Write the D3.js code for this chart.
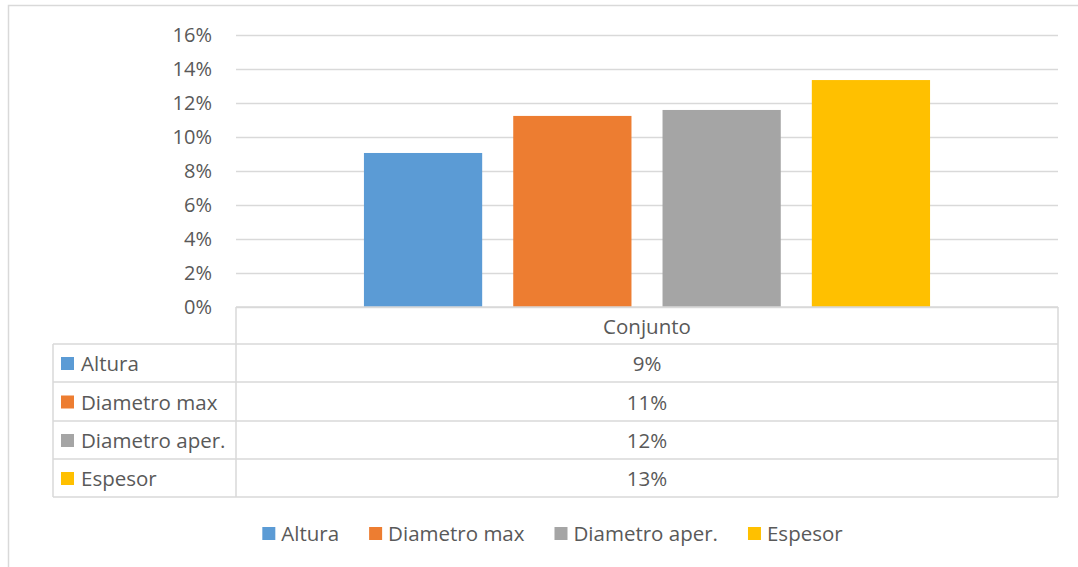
<!DOCTYPE html>
<html>
<head>
<meta charset="utf-8">
<script src="https://cdn.jsdelivr.net/npm/d3@7"></script>
<style>
  html, body { margin: 0; padding: 0; background: #fff; }
  svg { display: block; }
  text { font-family: "Open Sans", "Liberation Sans", sans-serif; fill: #595959; }
</style>
</head>
<body>
<svg id="chart" width="1078" height="567"></svg>
<script>
// ---- data ----
const categories = ["Conjunto"];
const seriesNames = ["Altura", "Diametro max", "Diametro aper.", "Espesor"];
const seriesValues = [0.0906, 0.1124, 0.1159, 0.1335];
const seriesLabels = ["9%", "11%", "12%", "13%"];
const seriesColors = ["#5B9BD5", "#ED7D31", "#A5A5A5", "#FFC000"];
const yTicks = [0, 0.02, 0.04, 0.06, 0.08, 0.10, 0.12, 0.14, 0.16];

const svg = d3.select("#chart");
const FS = 20.5;
const FS_TICK = 20;
const FONT = "'Open Sans', 'Liberation Sans', sans-serif";
const gridColor = "#d9d9d9";

// chart frame (cropped on right/bottom)
svg.append("rect").attr("x", 8.5).attr("y", 5.5).attr("width", 1100).attr("height", 600)
  .attr("fill", "none").attr("stroke", gridColor).attr("stroke-width", 1.5);

const plotLeft = 236, plotRight = 1058, plotTop = 35, plotBottom = 307;

const y = d3.scaleLinear().domain([0, 0.16]).range([plotBottom, plotTop]);
const x0 = d3.scaleBand().domain(categories).range([plotLeft, plotRight])
  .paddingInner(0).paddingOuter(0.226);
const x1 = d3.scaleBand().domain(seriesNames).range([0, x0.bandwidth()])
  .paddingInner(0.208).paddingOuter(0);

// gridlines + y axis labels
const yAxis = d3.axisLeft(y).tickValues(yTicks).tickFormat(d3.format(".0%"))
  .tickSize(-(plotRight - plotLeft)).tickPadding(24);
const gy = svg.append("g").attr("transform", `translate(${plotLeft},0)`).call(yAxis);
gy.select(".domain").remove();
gy.selectAll(".tick line").attr("stroke", gridColor).attr("stroke-width", 1.3);
gy.selectAll(".tick text").attr("font-size", FS_TICK).attr("fill", "#595959")
  .style("font-family", FONT);

// bars
const gBars = svg.append("g");
categories.forEach(cat => {
  gBars.selectAll("rect.bar").data(seriesNames.map((s, i) => ({ s, v: seriesValues[i], c: seriesColors[i] })))
    .join("rect").attr("class", "bar")
    .attr("x", d => x0(cat) + x1(d.s))
    .attr("width", x1.bandwidth())
    .attr("y", d => y(d.v))
    .attr("height", d => y(0) - y(d.v))
    .attr("fill", d => d.c);
});

// data table
const tableLeft = 53;
const rowYs = [plotBottom, 344, 382, 421, 459, 497];
const gT = svg.append("g");
const line = (x1_, y1_, x2_, y2_) => gT.append("line").attr("x1", x1_).attr("y1", y1_)
  .attr("x2", x2_).attr("y2", y2_).attr("stroke", gridColor).attr("stroke-width", 1.5);
line(plotLeft, rowYs[0], plotRight, rowYs[0]);
line(plotLeft, rowYs[0], plotLeft, rowYs[5]);
line(plotRight, rowYs[0], plotRight, rowYs[5]);
for (let i = 1; i < rowYs.length; i++) line(tableLeft, rowYs[i], plotRight, rowYs[i]);
line(tableLeft, rowYs[1], tableLeft, rowYs[5]);

gT.append("text").attr("x", x0("Conjunto") + x0.bandwidth() / 2).attr("y", (rowYs[0] + rowYs[1]) / 2)
  .attr("text-anchor", "middle").attr("dominant-baseline", "central").attr("font-size", FS)
  .text(categories[0]);

seriesNames.forEach((s, i) => {
  const cy = (rowYs[i + 1] + rowYs[i + 2]) / 2;
  gT.append("rect").attr("x", 61).attr("y", cy - 6).attr("width", 13).attr("height", 13)
    .attr("fill", seriesColors[i]);
  gT.append("text").attr("x", 81).attr("y", cy).attr("dominant-baseline", "central")
    .attr("font-size", FS).text(s);
  gT.append("text").attr("x", x0("Conjunto") + x0.bandwidth() / 2).attr("y", cy)
    .attr("text-anchor", "middle").attr("dominant-baseline", "central").attr("font-size", FS)
    .text(seriesLabels[i]);
});

// bottom legend
const gL = svg.append("g");
const legendY = 533;
const items = seriesNames.map((s, i) => {
  const g = gL.append("g");
  g.append("rect").attr("x", 0).attr("y", legendY - 6).attr("width", 13).attr("height", 13)
    .attr("fill", seriesColors[i]);
  const t = g.append("text").attr("x", 19).attr("y", legendY).attr("dominant-baseline", "central")
    .attr("font-size", FS).text(s);
  return { g, w: 19 + t.node().getComputedTextLength() };
});
const gap = 30;
const total = d3.sum(items, d => d.w) + gap * (items.length - 1);
let cx = 552.5 - total / 2;
items.forEach(it => { it.g.attr("transform", `translate(${cx},0)`); cx += it.w + gap; });
</script>
</body>
</html>
